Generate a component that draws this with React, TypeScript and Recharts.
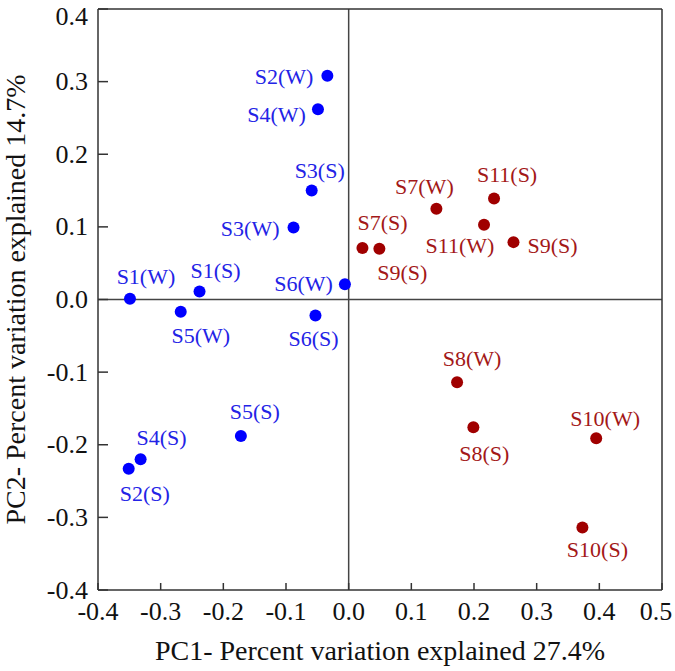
import { ScatterChart, Scatter, XAxis, YAxis, ReferenceLine, Label } from "recharts";

const xTicks = [-0.4, -0.3, -0.2, -0.1, 0, 0.1, 0.2, 0.3, 0.4, 0.5];
const yTicks = [-0.4, -0.3, -0.2, -0.1, 0, 0.1, 0.2, 0.3, 0.4];

// group 1 (blue)
const blueNames = ["S1(W)", "S1(S)", "S2(W)", "S2(S)", "S3(W)", "S3(S)", "S4(W)", "S4(S)", "S5(W)", "S5(S)", "S6(W)", "S6(S)"];
const bluePC1 = [-0.349, -0.238, -0.034, -0.351, -0.088, -0.059, -0.049, -0.332, -0.268, -0.172, -0.006, -0.053];
const bluePC2 = [0.001, 0.011, 0.308, -0.233, 0.099, 0.15, 0.262, -0.22, -0.017, -0.188, 0.021, -0.022];

// group 2 (red)
const redNames = ["S7(S)", "S9(S)", "S7(W)", "S11(W)", "S11(S)", "S9(S)", "S8(W)", "S8(S)", "S10(W)", "S10(S)"];
const redPC1 = [0.022, 0.049, 0.14, 0.216, 0.232, 0.263, 0.173, 0.199, 0.395, 0.373];
const redPC2 = [0.071, 0.07, 0.125, 0.103, 0.139, 0.079, -0.114, -0.176, -0.191, -0.314];

// label placement next to each point: dx, dy, anchor
const blueLabelPos: [number, number, string][] = [
  [16, -22, "middle"], [16, -21, "middle"], [-14, 1, "end"], [16, 25, "middle"],
  [-14, 1, "end"], [8, -20, "middle"], [-12, 5, "end"], [21, -22, "middle"],
  [20, 24, "middle"], [14, -25, "middle"], [-12, -1, "end"], [-2, 23, "middle"],
];
const redLabelPos: [number, number, string][] = [
  [20, -25, "middle"], [23, 24, "middle"], [-12, -22, "middle"], [-24, 21, "middle"],
  [13, -24, "middle"], [14, 3, "start"], [15, -24, "middle"], [11, 26, "middle"],
  [9, -20, "middle"], [15, 22, "middle"],
];

const blueData = blueNames.map((name, idx) => ({ name, idx, x: bluePC1[idx], y: bluePC2[idx] }));
const redData = redNames.map((name, idx) => ({ name, idx, x: redPC1[idx], y: redPC2[idx] }));

const FONT = "'Liberation Serif', 'Times New Roman', serif";
const BOTTOM_TICK = 7;
const LEFT_TICK = 10;

const makeShape = (dotColor: string, textColor: string, pos: [number, number, string][]) => (props: any) => {
  const { cx, cy, payload } = props;
  const [dx, dy, anchor] = pos[payload.idx];
  return (
    <g>
      <circle cx={cx} cy={cy} r={6} fill={dotColor} />
      <text
        x={cx + dx}
        y={cy + dy}
        textAnchor={anchor as any}
        dominantBaseline="central"
        fill={textColor}
        fontSize={22}
        fontFamily={FONT}
      >
        {payload.name}
      </text>
    </g>
  );
};

const BottomTick = (props: any) => {
  const v = Number(props.payload.value);
  // last label is pulled in so it stays inside the picture
  const shift = v >= 0.5 ? -6 : 0;
  return (
    <text x={props.x + shift} y={props.y + BOTTOM_TICK + 30} textAnchor="middle" fill="#111" fontSize={26} fontFamily={FONT}>
      {v.toFixed(1)}
    </text>
  );
};

const LeftTick = (props: any) => {
  const v = Number(props.payload.value);
  const shift = v >= 0.4 ? 7 : 0;
  return (
    <text x={props.x - LEFT_TICK - 10} y={props.y + shift} textAnchor="end" dominantBaseline="central" fill="#111" fontSize={26} fontFamily={FONT}>
      {v.toFixed(1)}
    </text>
  );
};

export default function App() {
  const axisStroke = { stroke: "#333", strokeWidth: 1.5 };
  return (
    <div style={{ position: "absolute", left: 0, top: 0, background: "#fff" }}>
      <ScatterChart width={675} height={671} margin={{ top: 9, right: 13, bottom: 81, left: 98 }}>
        <XAxis
          xAxisId="x"
          dataKey="x"
          type="number"
          orientation="bottom"
          mirror
          domain={[-0.4, 0.5]}
          ticks={xTicks}
          allowDataOverflow
          tickSize={BOTTOM_TICK}
          tickMargin={0}
          axisLine={axisStroke}
          tickLine={axisStroke}
          tick={<BottomTick />}
        >
          <Label
            value="PC1- Percent variation explained 27.4%"
            position="bottom"
            offset={50}
            fill="#111"
            fontSize={28}
            fontFamily={FONT}
          />
        </XAxis>
        <XAxis
          xAxisId="top"
          type="number"
          orientation="top"
          mirror
          domain={[-0.4, 0.5]}
          ticks={xTicks}
          allowDataOverflow
          tickSize={10}
          axisLine={axisStroke}
          tickLine={axisStroke}
          tick={false}
        />
        <YAxis
          yAxisId="y"
          dataKey="y"
          type="number"
          orientation="left"
          mirror
          domain={[-0.4, 0.4]}
          ticks={yTicks}
          allowDataOverflow
          tickSize={LEFT_TICK}
          tickMargin={0}
          axisLine={axisStroke}
          tickLine={axisStroke}
          tick={<LeftTick />}
        >
          <Label
            value="PC2- Percent variation explained 14.7%"
            position="left"
            angle={-90}
            offset={83}
            fill="#111"
            fontSize={28}
            fontFamily={FONT}
            style={{ textAnchor: "middle" }}
          />
        </YAxis>
        <YAxis
          yAxisId="right"
          type="number"
          orientation="right"
          mirror
          domain={[-0.4, 0.4]}
          ticks={yTicks}
          allowDataOverflow
          tickSize={8}
          axisLine={axisStroke}
          tickLine={axisStroke}
          tick={false}
        />
        <ReferenceLine xAxisId="x" yAxisId="y" x={0} stroke="#444" strokeWidth={1.5} />
        <ReferenceLine xAxisId="x" yAxisId="y" y={0} stroke="#444" strokeWidth={1.5} />
        <Scatter
          xAxisId="x"
          yAxisId="y"
          data={blueData}
          isAnimationActive={false}
          shape={makeShape("#0000ff", "#2323e6", blueLabelPos)}
        />
        <Scatter
          xAxisId="x"
          yAxisId="y"
          data={redData}
          isAnimationActive={false}
          shape={makeShape("#a00000", "#a31818", redLabelPos)}
        />
      </ScatterChart>
    </div>
  );
}
